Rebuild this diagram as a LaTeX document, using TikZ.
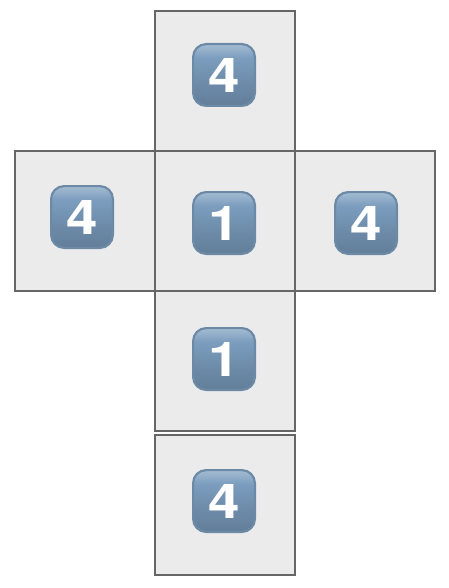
\documentclass[tikz,border=0pt]{standalone}
\usepackage{fontspec}
\setmainfont{TeX Gyre Heros}
\definecolor{capdark}{HTML}{5E7992}
\definecolor{capmid}{HTML}{6C8AA8}
\definecolor{capblue}{HTML}{7C9DBE}
\definecolor{caplight}{HTML}{A0B9D0}
\definecolor{captop}{HTML}{C0D2E2}
\definecolor{cellfill}{HTML}{EBEBEB}
\definecolor{celledge}{HTML}{666666}
\definecolor{capedge}{HTML}{6C89A6}
\pgfdeclareverticalshading{capshade}{64pt}{
  color(0pt)=(capdark);
  color(24pt)=(capmid);
  color(46pt)=(capblue);
  color(56pt)=(caplight);
  color(64pt)=(captop)}
\tikzset{
  cell/.style={draw=celledge,fill=cellfill,line width=2.2pt,minimum size=140pt,inner sep=0pt,outer sep=0pt},
  keycap/.style={draw=capedge,line width=2.2pt,minimum size=61.8pt,inner sep=0pt,outer sep=0pt,rounded corners=13pt,
    shading=capshade,text=white,font=\fontsize{48}{48}\selectfont\bfseries}
}
\newcommand{\capdigit}[1]{\scalebox{1.18}[1]{#1}}
\begin{document}
\begin{tikzpicture}[x=1pt,y=-1pt]
\useasboundingbox (0,0) rectangle (448,588);
\node[cell] (top) at (225,81) {};
\node[cell] (left) at (85,221) {};
\node[cell] (centre) at (225,221) {};
\node[cell] (right) at (365,221) {};
\node[cell] (lower) at (225,361) {};
\node[cell] (bottom) at (225,505) {};
\node[keycap] (ktop) at (224,75) {\capdigit{4}};
\node[keycap] (kleft) at (82,217) {\capdigit{4}};
\node[keycap] (kcentre) at (224,223) {\capdigit{1}};
\node[keycap] (kright) at (366,223) {\capdigit{4}};
\node[keycap] (klower) at (224,359) {\capdigit{1}};
\node[keycap] (kbottom) at (224,501) {\capdigit{4}};
\end{tikzpicture}
\end{document}
